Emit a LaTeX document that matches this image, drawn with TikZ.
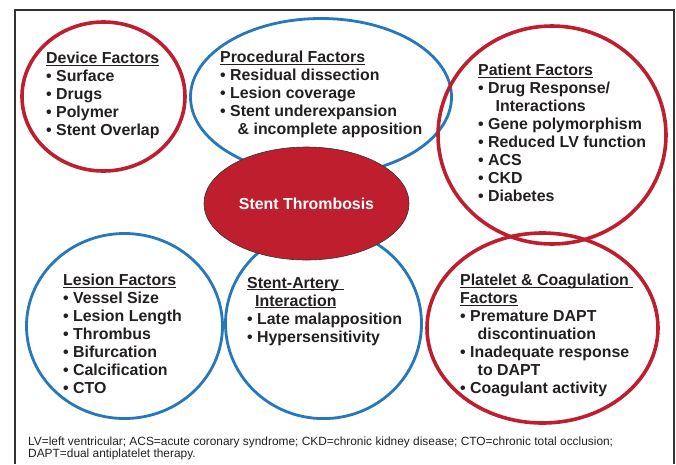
\documentclass[tikz,border=0pt]{standalone}
\usepackage{fontspec}
\setmainfont{Liberation Sans}
\usepackage{tikz}
\usetikzlibrary{shapes.geometric}

\definecolor{stred}{HTML}{BE1E2D}
\definecolor{stblue}{HTML}{2677BC}
\definecolor{inkgray}{HTML}{231F20}

\newcommand{\ulhead}[1]{\setbox0\hbox{#1}\rlap{\rule[-2.1pt]{\wd0}{1.1pt}}\box0}
\newcommand{\itm}{\textbullet\ }
\newcommand{\cont}{\hspace*{17.5pt}}

\begin{document}
\begin{tikzpicture}[x=1pt, y=-1pt,
  redring/.style={draw=stred, ellipse, line width=3.6pt},
  bluering/.style={draw=stblue, ellipse, line width=2.8pt},
  factor/.style={anchor=north west, align=left, inner sep=0pt, text=inkgray,
    font=\fontsize{15.9}{18}\selectfont\bfseries}]
\useasboundingbox (0,0) rectangle (676,464);

% frame
\draw[line width=2pt, draw=black!80] (15,464) |- (674,10) -- (674,464);

% rings
\node[redring, minimum width=163pt, minimum height=149pt] at (103.5,96.5) (device) {};
\node[bluering, minimum width=261pt, minimum height=157pt] at (321,97) (procedural) {};
\node[redring, minimum width=228pt, minimum height=218pt] at (552,135) (patient) {};
\node[bluering, minimum width=196pt, minimum height=185pt] at (124.5,326) (lesion) {};
\node[bluering, minimum width=196pt, minimum height=190pt] at (323.5,323.6) (interaction) {};
\node[redring, minimum width=231pt, minimum height=190pt] at (542.5,328) (platelet) {};

\node[ellipse, fill=stred, draw=black!80, line width=0.6pt, minimum width=205pt, minimum height=113pt,
  text=white, font=\fontsize{15.9}{18}\selectfont\bfseries] at (306.5,203.5) (thrombosis) {Stent Thrombosis};

% factor lists
\node[factor] at (46,52) (devicetxt) {\ulhead{Device Factors}\\
  \itm Surface\\ \itm Drugs\\ \itm Polymer\\ \itm Stent Overlap};
\node[factor] at (220,51) (proceduraltxt) {\ulhead{Procedural Factors}\\
  \itm Residual dissection\\ \itm Lesion coverage\\ \itm Stent underexpansion\\
  \cont\& incomplete apposition};
\node[factor] at (478,64) (patienttxt) {\ulhead{Patient Factors}\\
  \itm Drug Response/\\ \cont Interactions\\ \itm Gene polymorphism\\
  \itm Reduced LV function\\ \itm ACS\\ \itm CKD\\ \itm Diabetes};
\node[factor] at (63,274) (lesiontxt) {\ulhead{Lesion Factors}\\
  \itm Vessel Size\\ \itm Lesion Length\\ \itm Thrombus\\ \itm Bifurcation\\
  \itm Calcification\\ \itm CTO};
\node[factor] at (247,277) (interactiontxt) {\ulhead{Stent-Artery\ }\\
  \hspace*{8pt}\ulhead{Interaction}\\ \itm Late malapposition\\ \itm Hypersensitivity};
\node[factor] at (460,274) (platelettxt) {\ulhead{Platelet \& Coagulation\ }\\
  \ulhead{Factors}\\ \itm Premature DAPT\\ \cont discontinuation\\
  \itm Inadequate response\\ \cont to DAPT\\ \itm Coagulant activity};

% abbreviations
\node[anchor=north west, align=left, inner sep=0pt, text=inkgray,
  font=\fontsize{11.9}{11}\selectfont] at (28,437) (abbrev)
  {LV=left ventricular; ACS=acute coronary syndrome; CKD=chronic kidney disease; CTO=chronic total occlusion;\\
   DAPT=dual antiplatelet therapy.};
\end{tikzpicture}
\end{document}
